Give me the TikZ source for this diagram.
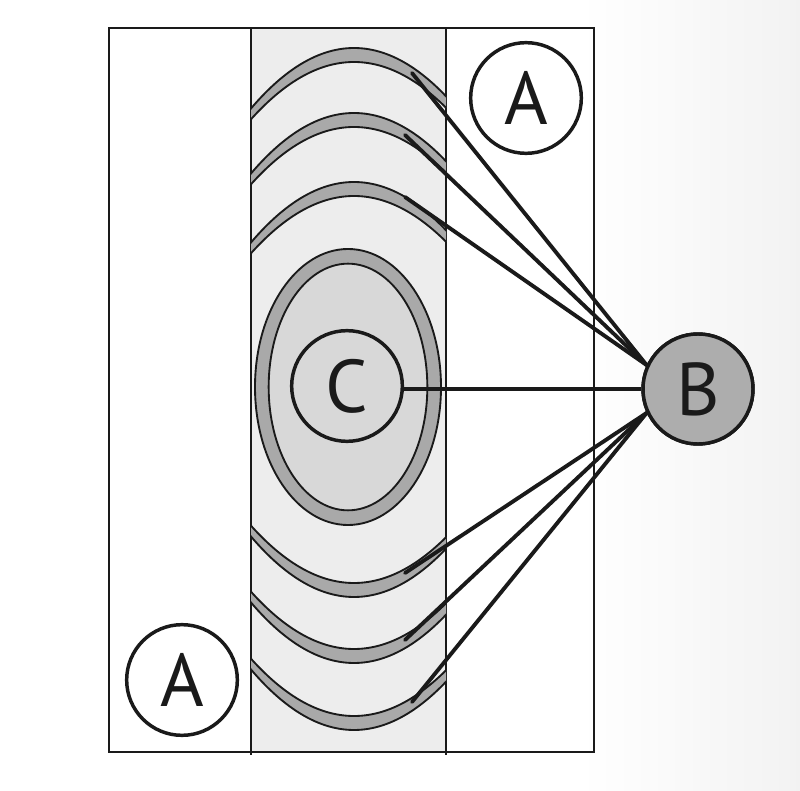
\documentclass[tikz,border=0pt]{standalone}
\usepackage{fontspec}
\setmainfont{PT Sans}
\definecolor{ink}{HTML}{1A1A1A}
\definecolor{stripgray}{HTML}{EDEDED}
\definecolor{bandgray}{HTML}{A9A9A9}
\definecolor{innergray}{HTML}{D8D8D8}
\definecolor{bgray}{HTML}{ADADAD}
\begin{document}
\begin{tikzpicture}[x=0.75pt,y=-0.75pt,
  frame/.style={draw=ink,line width=1.5pt},
  edgeline/.style={draw=ink,line width=1.4pt},
  lbl/.style={circle,draw=ink,line width=2.6pt,minimum size=83pt,inner sep=0pt,
              font=\fontsize{56}{56}\selectfont,text=ink},
  conn/.style={draw=ink,line width=2.9pt,line cap=round}]
\useasboundingbox (0,0) rectangle (800,791);
% background
\fill[white] (0,0) rectangle (800,791);
\shade[left color=white,right color=black!5] (580,0) rectangle (800,791);
% middle strip
\fill[stripgray] (251,28) rectangle (446,752);
\draw[frame] (109,28) rectangle (594,752);
\draw[frame] (251,28) -- (251,755);
\draw[frame] (446,28) -- (446,755);
% central ellipse
\draw[edgeline,fill=bandgray] (348,387) ellipse [x radius=69.75pt, y radius=103.5pt];
\draw[edgeline,fill=innergray] (348,387) ellipse [x radius=59.5pt, y radius=92.5pt];
% arcs
\begin{scope}
  \clip (251,28) rectangle (446,752);
  \foreach \t in {48,113,182} {
    \fill[bandgray] (239,{\t+75.4}) .. controls (315.67,{\t-25.13}) and (392.33,{\t-25.13}) .. (469,{\t+75.4})
      -- (469,{\t+85.4}) .. controls (392.33,{\t-9.8}) and (315.67,{\t-9.8}) .. (239,{\t+85.4}) -- cycle;
    \draw[edgeline] (239,{\t+75.4}) .. controls (315.67,{\t-25.13}) and (392.33,{\t-25.13}) .. (469,{\t+75.4});
    \draw[edgeline] (239,{\t+85.4}) .. controls (315.67,{\t-9.8}) and (392.33,{\t-9.8}) .. (469,{\t+85.4});
  }
  \foreach \b in {597,663,730} {
    \fill[bandgray] (239,{\b-75.4}) .. controls (315.67,{\b+25.13}) and (392.33,{\b+25.13}) .. (469,{\b-75.4})
      -- (469,{\b-85.4}) .. controls (392.33,{\b+9.8}) and (315.67,{\b+9.8}) .. (239,{\b-85.4}) -- cycle;
    \draw[edgeline] (239,{\b-75.4}) .. controls (315.67,{\b+25.13}) and (392.33,{\b+25.13}) .. (469,{\b-75.4});
    \draw[edgeline] (239,{\b-85.4}) .. controls (315.67,{\b+9.8}) and (392.33,{\b+9.8}) .. (469,{\b-85.4});
  }
\end{scope}
% labels
\node[lbl,fill=white] (A1) at (526,98) {A};
\node[lbl,fill=white] (A2) at (182,680) {A};
\node[lbl] (C) at (347,386) {C};
\node[lbl,fill=bgray,minimum size=82.5pt] (B) at (698,389) {B};
% connector ends
\coordinate (e1) at (412,73);
\coordinate (e2) at (405,135);
\coordinate (e3) at (405,197);
\coordinate (e4) at (405,573);
\coordinate (e5) at (405,640);
\coordinate (e6) at (412,702);
\foreach \e in {e1,e2,e3} \draw[conn] (B.155) -- (\e);
\foreach \e in {e4,e5,e6} \draw[conn] (B.205) -- (\e);
\draw[conn,line cap=butt] (B.west) -- (C.east |- B.west);
% redraw B on top
\node[lbl,fill=bgray,minimum size=82.5pt] at (B) {B};
\end{tikzpicture}
\end{document}
